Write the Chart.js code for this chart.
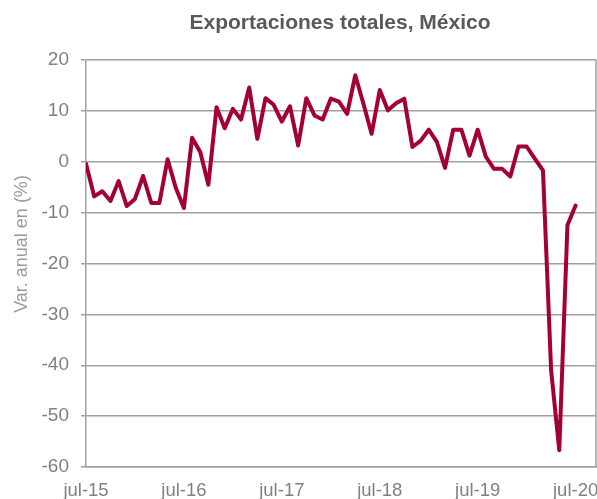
<!DOCTYPE html>
<html>
<head>
<meta charset="utf-8">
<script src="https://cdn.jsdelivr.net/npm/chart.js@4.4.0/dist/chart.umd.min.js"></script>
<style>
  html, body { margin: 0; padding: 0; background: #fff; overflow: hidden; }
</style>
</head>
<body>
<!-- canvas is a bit wider than the window so the last tick label gets cut like in the original -->
<canvas id="exportsChart" width="640" height="499"></canvas>
<script>
// Exportaciones totales, var. anual (%), monthly jul-15 .. jul-20
const chartTitle = "Exportaciones totales, México"
const yAxisTitle = "Var. anual en (%)"

const tickLabels = ["jul-15", "jul-16", "jul-17", "jul-18", "jul-19", "jul-20"]
const tickMonths = [0, 12, 24, 36, 48, 60]

const exportsVar = [
  -0.4, -6.8, -5.8, -7.7, -3.8, -8.7, -7.3, -2.8, -8.1, -8.1, 0.5, -5.1,
  -9.1, 4.7, 1.9, -4.5, 10.7, 6.6, 10.4, 8.3, 14.6, 4.5, 12.5, 11.2,
  7.9, 10.9, 3.2, 12.5, 9.1, 8.3, 12.4, 11.8, 9.4, 17.0, 11.4, 5.5,
  14.1, 10.1, 11.5, 12.4, 2.9, 4.1, 6.3, 3.9, -1.2, 6.3, 6.3, 1.2,
  6.3, 1.0, -1.4, -1.4, -2.9, 3.0, 3.0, 0.6, -1.7, -41.0, -56.7, -12.5,
  -8.6,
]

const FONT = '"Liberation Sans", Arial, sans-serif'
const gridGray = "#a0a0a0"

// Title, y-axis title and right border of the plot area
const decor = {
  id: "decor",
  afterDraw(chart) {
    const ctx = chart.ctx
    const area = chart.chartArea
    ctx.save()

    ctx.strokeStyle = gridGray
    ctx.lineWidth = 1.5
    ctx.beginPath()
    ctx.moveTo(area.right, area.top)
    ctx.lineTo(area.right, area.bottom)
    ctx.stroke()

    ctx.fillStyle = "#595959"
    ctx.font = "bold 21px " + FONT
    ctx.textAlign = "center"
    ctx.textBaseline = "alphabetic"
    ctx.fillText(chartTitle, 340, 29)

    ctx.translate(22, 244)
    ctx.rotate(-Math.PI / 2)
    ctx.fillStyle = "#9a9a9a"
    ctx.font = "18px " + FONT
    ctx.textBaseline = "middle"
    ctx.fillText(yAxisTitle, 0, 0)
    ctx.restore()
  },
}

const ctx = document.getElementById("exportsChart").getContext("2d")
new Chart(ctx, {
  type: "line",
  data: {
    datasets: [
      {
        data: exportsVar.map((v, i) => ({ x: i, y: v })),
        borderColor: "rgb(163, 0, 52)",
        borderWidth: 4,
        borderJoinStyle: "round",
        borderCapStyle: "round",
        pointRadius: 0,
        tension: 0,
        fill: false,
      },
    ],
  },
  options: {
    responsive: false,
    animation: false,
    layout: { padding: { top: 60, right: 44, bottom: 0, left: 0 } },
    plugins: {
      legend: { display: false },
      tooltip: { enabled: false },
    },
    scales: {
      x: {
        type: "linear",
        min: 0,
        max: 62.5,
        afterBuildTicks: (scale) => {
          scale.ticks = tickMonths.map((m) => ({ value: m }))
        },
        afterFit: (scale) => {
          scale.height = 32
        },
        grid: { display: false, drawTicks: false },
        border: { display: true, color: gridGray, width: 1.5 },
        ticks: {
          autoSkip: false,
          maxRotation: 0,
          padding: 13,
          color: "#808080",
          font: { family: FONT, size: 18.5 },
          callback: (v) => {
            const k = tickMonths.indexOf(v)
            return k >= 0 ? tickLabels[k] : ""
          },
        },
      },
      y: {
        min: -60,
        max: 20,
        afterFit: (scale) => {
          scale.width = 86
        },
        grid: { color: gridGray, lineWidth: 1.5, tickLength: 5, drawTicks: true },
        border: { display: true, color: gridGray, width: 1.5 },
        ticks: {
          stepSize: 10,
          padding: 12,
          color: "#808080",
          font: { family: FONT, size: 19 },
        },
      },
    },
  },
  plugins: [decor],
})
</script>
</body>
</html>
